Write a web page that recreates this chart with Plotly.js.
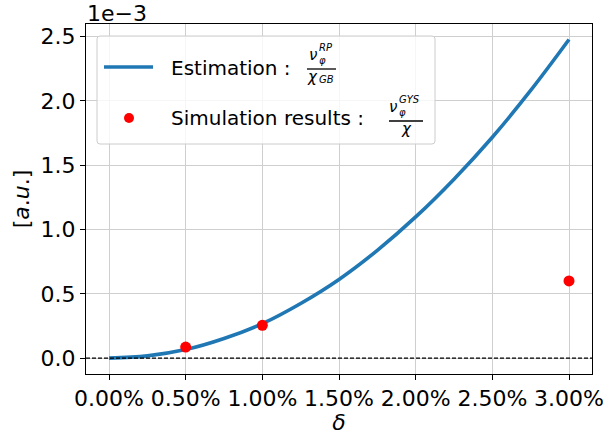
<!DOCTYPE html>
<html>
<head>
<meta charset="utf-8">
<script src="https://cdn.plot.ly/plotly-3.0.1.min.js"></script>
<style>html,body{margin:0;padding:0;background:#fff;}#chart{width:606px;height:435px;}</style>
</head>
<body>
<div id="chart"></div>
<script>
// ---- data (y values in units of 1e-3) ----
const estDelta = [0, 0.0025, 0.005, 0.0075, 0.01, 0.0125, 0.015, 0.0175, 0.02, 0.0225, 0.025, 0.0275, 0.03];
const estValue = [0, 0.017, 0.066, 0.152, 0.268, 0.425, 0.612, 0.838, 1.098, 1.392, 1.718, 2.082, 2.478];
const simDelta = [0.005, 0.01, 0.03];
const simValue = [0.086, 0.255, 0.600];
const xTicks = [0, 0.005, 0.01, 0.015, 0.02, 0.025, 0.03];
const yTicks = [0, 0.5, 1.0, 1.5, 2.0, 2.5];
const legendLabels = ["Estimation :", "Simulation results :"];

// ---- layout helpers (pixel -> paper) ----
const L = 86, T = 24, W = 506, H = 350;
const px = x => (x - L) / W;
const py = y => (T + H - y) / H;
const FONT = "DejaVu Sans";
const blue = "#1f77b4";

function ann(text, x, y, size, opts) {
  return Object.assign({
    text: text, xref: "paper", yref: "paper", x: px(x), y: py(y),
    xanchor: "center", yanchor: "middle", showarrow: false, borderpad: 0,
    font: {family: FONT, size: size, color: "#000"}
  }, opts || {});
}

const traces = [
  {x: estDelta, y: estValue, type: "scatter", mode: "lines", name: "Estimation",
   line: {color: blue, width: 3.6, shape: "spline"}, showlegend: false},
  {x: simDelta, y: simValue, type: "scatter", mode: "markers", name: "Simulation results",
   marker: {color: "#ff0000", size: 11}, showlegend: false}
];

// legend box (rounded)
const bx0 = px(97), bx1 = px(435), by0 = py(144), by1 = py(36);
const rx = 3 / W, ry = 3 / H;
const boxPath = `M ${bx0+rx},${by0} L ${bx1-rx},${by0} Q ${bx1},${by0} ${bx1},${by0+ry} L ${bx1},${by1-ry} Q ${bx1},${by1} ${bx1-rx},${by1} L ${bx0+rx},${by1} Q ${bx0},${by1} ${bx0},${by1-ry} L ${bx0},${by0+ry} Q ${bx0},${by0} ${bx0+rx},${by0} Z`;

const shapes = [
  {type: "line", xref: "paper", yref: "y", x0: 0, x1: 1, y0: 0, y1: 0,
   line: {color: "#000", width: 1.2, dash: "4px,2px"}, layer: "above"},
  {type: "path", xref: "paper", yref: "paper", path: boxPath,
   fillcolor: "rgba(255,255,255,0.8)", line: {color: "#cccccc", width: 1}, layer: "above"},
  {type: "line", xref: "paper", yref: "paper", x0: px(104), x1: px(153), y0: py(67), y1: py(67),
   line: {color: blue, width: 3.6}, layer: "above"},
  {type: "circle", xref: "paper", yref: "paper", x0: px(124), x1: px(134), y0: py(123), y1: py(113),
   fillcolor: "#ff0000", line: {color: "#ff0000", width: 0}, layer: "above"},
  // fraction bars
  {type: "line", xref: "paper", yref: "paper", x0: px(307), x1: px(336), y0: py(69), y1: py(69),
   line: {color: "#000", width: 1.3}, layer: "above"},
  {type: "line", xref: "paper", yref: "paper", x0: px(389), x1: px(423), y0: py(121), y1: py(121),
   line: {color: "#000", width: 1.3}, layer: "above"}
];

const annotations = [
  ann("1e\u22123", 86, 13, 22, {xanchor: "left"}),
  ann(legendLabels[0], 170, 68, 20, {xanchor: "left"}),
  ann(legendLabels[1], 170, 118, 20, {xanchor: "left"}),
  // fraction 1 : nu_phi^RP / chi_GB
  ann("<i>\u03bd</i>", 312.5, 55, 15),
  ann("<i>RP</i>", 318, 47, 10, {xanchor: "left"}),
  ann("<i>\u03c6</i>", 318, 60, 10, {xanchor: "left"}),
  ann("<i>\u03c7</i>", 312, 77, 15),
  ann("<i>GB</i>", 317.5, 79.5, 10, {xanchor: "left"}),
  // fraction 2 : nu_phi^GYS / chi
  ann("<i>\u03bd</i>", 392.5, 107, 15),
  ann("<i>GYS</i>", 398, 99.5, 10, {xanchor: "left"}),
  ann("<i>\u03c6</i>", 398, 112.5, 10, {xanchor: "left"}),
  ann("<i>\u03c7</i>", 406, 129, 15)
];

const layout = {
  width: 606, height: 435,
  margin: {l: L, r: 606 - L - W, t: T, b: 435 - T - H, pad: 0},
  paper_bgcolor: "#fff", plot_bgcolor: "#fff",
  font: {family: FONT, size: 22, color: "#000"},
  showlegend: false,
  xaxis: {
    range: [-0.0015, 0.0315], tickvals: xTicks, tickformat: ".2%",
    showgrid: true, gridcolor: "#cfcfcf", gridwidth: 1,
    showline: true, linecolor: "#000", linewidth: 1, mirror: true,
    ticks: "outside", ticklen: 5, tickcolor: "#000", zeroline: false,
    tickfont: {family: FONT, size: 22, color: "#000"},
    title: {text: "<i>\u03b4</i>", font: {family: FONT, size: 22, color: "#000"}, standoff: 0}
  },
  yaxis: {
    range: [-0.12375, 2.59875], tickvals: yTicks, tickformat: ".1f",
    showgrid: true, gridcolor: "#cfcfcf", gridwidth: 1,
    showline: true, linecolor: "#000", linewidth: 1, mirror: true,
    ticks: "outside", ticklen: 5, tickcolor: "#000", zeroline: false,
    tickfont: {family: FONT, size: 22, color: "#000"},
    title: {text: "[<i>a</i>.<i>u</i>.]", font: {family: FONT, size: 22, color: "#000"}, standoff: 4}
  },
  shapes: shapes,
  annotations: annotations
};

Plotly.newPlot("chart", traces, layout, {displayModeBar: false, staticPlot: true});
</script>
</body>
</html>
